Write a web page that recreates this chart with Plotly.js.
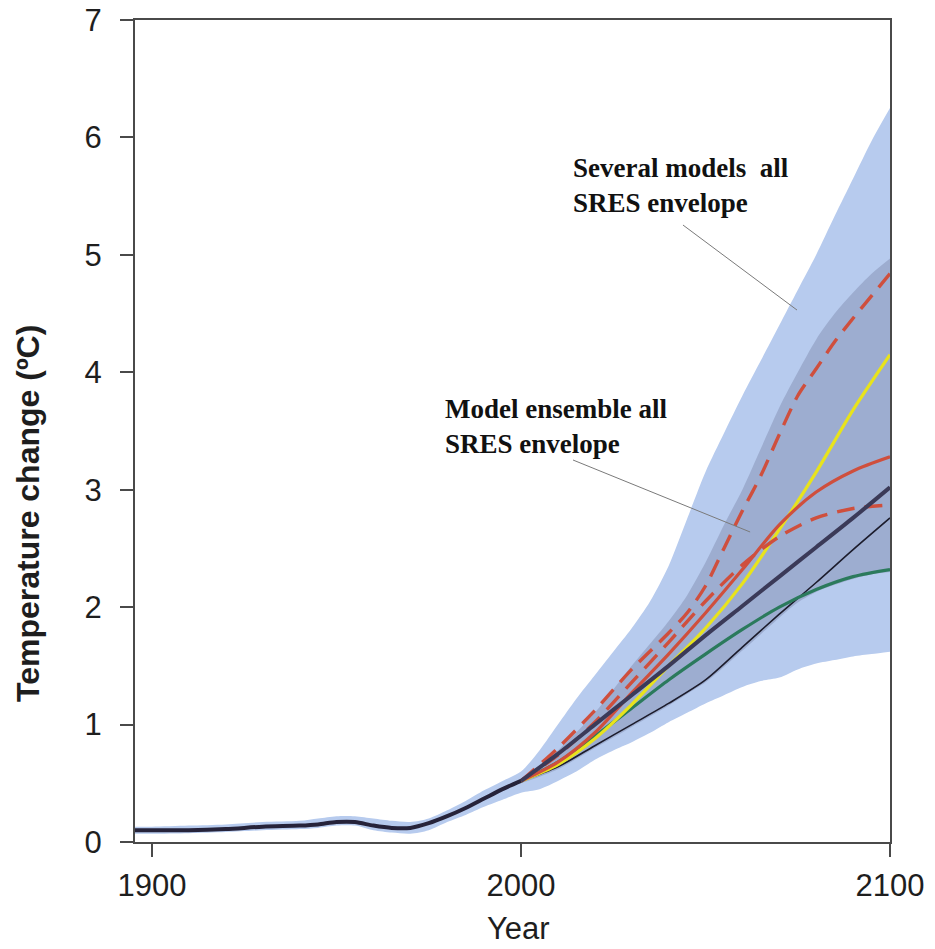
<!DOCTYPE html>
<html>
<head>
<meta charset="utf-8">
<script src="https://cdn.plot.ly/plotly-3.0.1.min.js"></script>
<style>
html,body{margin:0;padding:0;background:#fff;}
#chart{width:935px;height:949px;}
</style>
</head>
<body>
<div id="chart"></div>
<script>
// ---- data ----
const histYears = [1895,1900,1910,1920,1930,1940,1945,1950,1955,1960,1965,1970,1975,1980,1985,1990,1995,2000];
const histTemp  = [0.10,0.10,0.10,0.11,0.13,0.14,0.15,0.17,0.17,0.14,0.12,0.12,0.16,0.22,0.29,0.37,0.45,0.52];

const outerYears = [1895,1900,1910,1920,1930,1940,1945,1950,1955,1960,1965,1970,1975,1980,1985,1990,1995,2000,
                    2005,2010,2015,2020,2025,2030,2035,2040,2045,2050,2055,2060,2065,2070,2075,2080,2085,2090,2095,2100];
const outerUpper = [0.13,0.13,0.14,0.15,0.17,0.18,0.20,0.22,0.22,0.20,0.18,0.17,0.20,0.27,0.35,0.44,0.52,0.60,
                    0.78,1.00,1.22,1.42,1.62,1.82,2.05,2.35,2.75,3.15,3.48,3.80,4.10,4.40,4.70,5.00,5.33,5.65,5.97,6.25];
const outerLower = [0.07,0.07,0.075,0.085,0.10,0.11,0.12,0.14,0.14,0.10,0.08,0.07,0.10,0.17,0.23,0.30,0.36,0.42,
                    0.45,0.52,0.60,0.70,0.78,0.85,0.93,1.02,1.10,1.18,1.25,1.32,1.37,1.40,1.47,1.52,1.55,1.58,1.60,1.62];

const innerYears = [2000,2010,2020,2030,2040,2045,2050,2055,2060,2065,2070,2075,2080,2085,2090,2095,2100];
const innerUpper = [0.52,0.78,1.10,1.50,1.88,2.10,2.38,2.70,3.00,3.35,3.70,4.00,4.28,4.50,4.68,4.84,4.97];
const innerLower = [0.50,0.62,0.80,0.98,1.16,1.26,1.36,1.49,1.63,1.77,1.91,2.04,2.13,2.19,2.24,2.28,2.30];

const projYears   = [2000,2010,2020,2030,2040,2050,2060,2070,2080,2090,2100];
const navyProj    = [0.52,0.75,1.00,1.25,1.50,1.76,2.01,2.26,2.51,2.76,3.02];
const thinBlack   = [0.52,0.64,0.82,1.00,1.18,1.38,1.66,1.94,2.21,2.49,2.76];
const greenProj   = [0.52,0.68,0.90,1.14,1.38,1.60,1.81,2.00,2.15,2.26,2.32];
const yellowProj  = [0.52,0.66,0.88,1.17,1.50,1.82,2.20,2.66,3.15,3.68,4.15];
const redSolid    = [0.52,0.68,0.93,1.27,1.60,1.95,2.32,2.70,2.98,3.16,3.28];
const redDashLow  = [0.52,0.74,1.02,1.36,1.70,2.05,2.36,2.60,2.76,2.84,2.87];

const redDashHighYears = [2000,2010,2020,2030,2040,2045,2050,2055,2060,2065,2070,2075,2080,2085,2090,2095,2100];
const redDashHigh      = [0.52,0.80,1.12,1.47,1.78,1.95,2.18,2.50,2.82,3.12,3.47,3.80,4.03,4.26,4.46,4.65,4.84];

const xTicks = [1900,2000,2100];
const yTicks = [0,1,2,3,4,5,6,7];

// ---- traces ----
const lightBlue = '#b7cbee';
const innerBlue = '#9dadd0';
function line(x,y,color,width,dash){
  return {x:x,y:y,type:'scatter',mode:'lines',hoverinfo:'skip',showlegend:false,
          line:{color:color,width:width,dash:dash||'solid',shape:'spline',smoothing:0.8}};
}
const traces = [
  {x:outerYears,y:outerLower,type:'scatter',mode:'lines',line:{width:0,shape:'spline',smoothing:0.8},showlegend:false,hoverinfo:'skip'},
  {x:outerYears,y:outerUpper,type:'scatter',mode:'lines',fill:'tonexty',fillcolor:lightBlue,line:{width:0,shape:'spline',smoothing:0.8},showlegend:false,hoverinfo:'skip'},
  {x:innerYears,y:innerLower,type:'scatter',mode:'lines',line:{width:0,shape:'spline',smoothing:0.8},showlegend:false,hoverinfo:'skip'},
  {x:innerYears,y:innerUpper,type:'scatter',mode:'lines',fill:'tonexty',fillcolor:innerBlue,line:{width:0,shape:'spline',smoothing:0.8},showlegend:false,hoverinfo:'skip'},
  line(projYears,thinBlack,'#1c1c2c',1.6),
  line(projYears,greenProj,'#2b7a5c',3.2),
  line(projYears,yellowProj,'#e8e31c',3.2),
  line(projYears,redSolid,'#cf4f3d',3.2),
  line(projYears,redDashLow,'#cf4f3d',3.4,'18px,10px'),
  line(redDashHighYears,redDashHigh,'#cf4f3d',3.4,'18px,10px'),
  line(projYears,navyProj,'#3b3a58',4),
  line(histYears,histTemp,'#26233a',4)
];

const axisCommon = {
  showline:true, linecolor:'#4a4a4a', linewidth:2, mirror:true,
  ticks:'outside', ticklen:13, tickwidth:2, tickcolor:'#4a4a4a',
  showgrid:false, zeroline:false,
  tickfont:{family:'Liberation Sans, Arial, sans-serif', size:31, color:'#1e1e1e'}
};

const layout = {
  width:935, height:949,
  margin:{l:135, r:45, t:20, b:107},
  paper_bgcolor:'#ffffff', plot_bgcolor:'#ffffff',
  showlegend:false,
  xaxis:Object.assign({}, axisCommon, {range:[1895.4,2100], tickmode:'array', tickvals:xTicks, ticktext:xTicks.map(String), ticklabelstandoff:2}),
  yaxis:Object.assign({}, axisCommon, {range:[0,7], tickmode:'array', tickvals:yTicks, ticktext:yTicks.map(String), ticklabelstandoff:12}),
  shapes:[
    {type:'line', xref:'x', yref:'y', x0:2043.9, y0:5.254, x1:2074.8, y1:4.530, line:{color:'#7a7a7a', width:1}},
    {type:'line', xref:'x', yref:'y', x0:2014.1, y0:3.253, x1:2062.1, y1:2.640, line:{color:'#7a7a7a', width:1}}
  ],
  annotations:[
    {text:'<b>Several models  all</b><br><b>SRES envelope</b>', xref:'x', yref:'y', x:2013.6, y:5.59, xanchor:'left', yanchor:'middle', align:'left', showarrow:false,
     font:{family:'Liberation Serif, Times New Roman, serif', size:27, color:'#111'}},
    {text:'<b>Model ensemble all</b><br><b>SRES envelope</b>', xref:'x', yref:'y', x:1979.0, y:3.54, xanchor:'left', yanchor:'middle', align:'left', showarrow:false,
     font:{family:'Liberation Serif, Times New Roman, serif', size:27, color:'#111'}},
    {text:'<b>Temperature change (ºC)</b>', xref:'paper', yref:'paper', x:-0.1417, y:0.399, xanchor:'center', yanchor:'middle', textangle:-90, showarrow:false,
     font:{family:'Liberation Sans, Arial, sans-serif', size:32, color:'#1e1e1e'}},
    {text:'Year', xref:'paper', yref:'paper', x:0.508, y:-0.1285, xanchor:'center', yanchor:'bottom', showarrow:false,
     font:{family:'Liberation Sans, Arial, sans-serif', size:31, color:'#1e1e1e'}}
  ]
};

Plotly.newPlot('chart', traces, layout, {displayModeBar:false, staticPlot:true});
</script>
</body>
</html>
